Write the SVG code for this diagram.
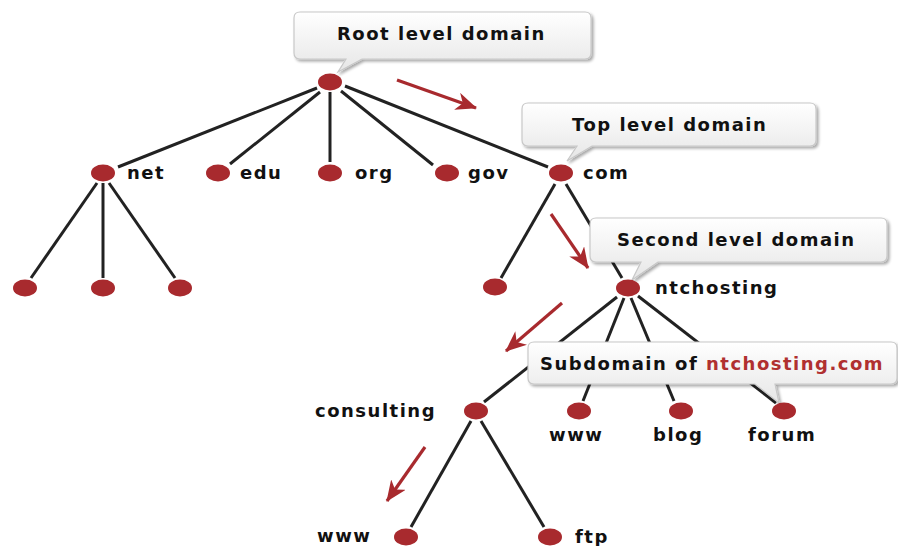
<svg xmlns="http://www.w3.org/2000/svg" width="898" height="546" viewBox="0 0 898 546">
<defs>
<linearGradient id="cg" x1="0" y1="0" x2="0" y2="1">
<stop offset="0" stop-color="#ffffff"/>
<stop offset="1" stop-color="#e6e6e6"/>
</linearGradient>
<filter id="sh" x="-10%" y="-20%" width="130%" height="160%">
<feGaussianBlur in="SourceAlpha" stdDeviation="1.5"/>
<feOffset dx="2" dy="2" result="b"/>
<feComponentTransfer><feFuncA type="linear" slope="0.35"/></feComponentTransfer>
<feMerge><feMergeNode/><feMergeNode in="SourceGraphic"/></feMerge>
</filter>
<marker id="ah" markerUnits="userSpaceOnUse" markerWidth="21" markerHeight="18" viewBox="0 0 21 18" refX="20" refY="9" orient="auto">
<path d="M0,0 L21,9 L0,18 L6,9 Z" fill="#a82a2e"/>
</marker>
</defs>
<style>
.e{stroke:#222;stroke-width:3;fill:none}
.a{stroke:#a82a2e;stroke-width:3.2;fill:none;marker-end:url(#ah)}
.n{fill:#a82a2e}
.t{font-family:"DejaVu Sans","Liberation Sans",sans-serif;font-weight:bold;font-size:18px;letter-spacing:1.5px;fill:#111}
.c{fill:url(#cg);stroke:#c8c8c8;stroke-width:1.2;filter:url(#sh)}
.r{fill:#b03030}
</style>
<rect width="898" height="546" fill="#fff"/>
<g id="connectors">
<line class="e" x1="317" y1="88" x2="118" y2="167"/>
<line class="e" x1="320" y1="92" x2="230" y2="164"/>
<line class="e" x1="330" y1="92" x2="330" y2="162"/>
<line class="e" x1="341" y1="91" x2="433" y2="165"/>
<line class="e" x1="345" y1="86" x2="548" y2="167"/>
<line class="e" x1="97" y1="183" x2="31" y2="278"/>
<line class="e" x1="103" y1="183" x2="103" y2="278"/>
<line class="e" x1="109" y1="183" x2="175" y2="278"/>
<line class="e" x1="555" y1="184" x2="501" y2="278"/>
<line class="e" x1="566" y1="184" x2="622" y2="278"/>
<line class="e" x1="617" y1="297" x2="484" y2="402"/>
<line class="e" x1="624" y1="298" x2="583" y2="401"/>
<line class="e" x1="631" y1="298" x2="674" y2="401"/>
<line class="e" x1="638" y1="296" x2="776" y2="403"/>
<line class="e" x1="471" y1="421" x2="411" y2="527"/>
<line class="e" x1="481" y1="421" x2="544" y2="527"/>
<line class="a" x1="397" y1="80" x2="476" y2="108"/>
<line class="a" x1="551" y1="214" x2="588" y2="268"/>
<line class="a" x1="562" y1="303" x2="506" y2="351"/>
<line class="a" x1="425" y1="447" x2="387" y2="501"/>
</g>
<g id="callout-root">
<path class="c" d="M300,12 H585 Q591,12 591,18 V53 Q591,59 585,59 H362 L338,72 L346,59 H300 Q294,59 294,53 V18 Q294,12 300,12 Z"/>
<text class="t" x="337" y="40">Root level domain</text>
</g>
<g id="callout-top">
<path class="c" d="M528,103 H810 Q816,103 816,109 V140 Q816,146 810,146 H592 L567,161 L577,146 H528 Q522,146 522,140 V109 Q522,103 528,103 Z"/>
<text class="t" x="572" y="131">Top level domain</text>
</g>
<g id="callout-second">
<path class="c" d="M596,218 H881 Q887,218 887,224 V256 Q887,262 881,262 H658 L632,280 L641,262 H596 Q590,262 590,256 V224 Q590,218 596,218 Z"/>
<text class="t" x="617" y="246">Second level domain</text>
</g>
<g id="n-root"><ellipse class="n" cx="330" cy="82" rx="12" ry="8.5"/></g>
<g id="n-net"><ellipse class="n" cx="103" cy="173" rx="12" ry="8.5"/><text class="t" x="127" y="179">net</text></g>
<g id="n-edu"><ellipse class="n" cx="218" cy="173" rx="12" ry="8.5"/><text class="t" x="240" y="179">edu</text></g>
<g id="n-org"><ellipse class="n" cx="330" cy="173" rx="12" ry="8.5"/><text class="t" x="355" y="179">org</text></g>
<g id="n-gov"><ellipse class="n" cx="447" cy="173" rx="12" ry="8.5"/><text class="t" x="468" y="179">gov</text></g>
<g id="n-com"><ellipse class="n" cx="561" cy="173" rx="12" ry="8.5"/><text class="t" x="583" y="179">com</text></g>
<g id="n-net1"><ellipse class="n" cx="25" cy="288" rx="12" ry="8.5"/></g>
<g id="n-net2"><ellipse class="n" cx="103" cy="288" rx="12" ry="8.5"/></g>
<g id="n-net3"><ellipse class="n" cx="180" cy="288" rx="12" ry="8.5"/></g>
<g id="n-com1"><ellipse class="n" cx="495" cy="287" rx="12" ry="8.5"/></g>
<g id="n-ntchosting"><ellipse class="n" cx="628" cy="288" rx="12" ry="8.5"/><text class="t" x="655" y="294">ntchosting</text></g>
<g id="callout-sub">
<path class="c" d="M534,342 H891 Q897,342 897,348 V378 Q897,384 891,384 H775 L779,403 L755,384 H534 Q528,384 528,378 V348 Q528,342 534,342 Z"/>
<text class="t" x="540" y="370">Subdomain of <tspan class="r">ntchosting.com</tspan></text>
</g>
<g id="n-consulting"><ellipse class="n" cx="476" cy="411" rx="12" ry="8.5"/><text class="t" x="315" y="417">consulting</text></g>
<g id="n-www"><ellipse class="n" cx="579" cy="411" rx="12" ry="8.5"/><text class="t" x="549" y="441">www</text></g>
<g id="n-blog"><ellipse class="n" cx="681" cy="411" rx="12" ry="8.5"/><text class="t" x="653" y="441">blog</text></g>
<g id="n-forum"><ellipse class="n" cx="784" cy="411" rx="12" ry="8.5"/><text class="t" x="748" y="441">forum</text></g>
<g id="n-www2"><ellipse class="n" cx="406" cy="537" rx="12" ry="8.5"/><text class="t" x="317" y="542">www</text></g>
<g id="n-ftp"><ellipse class="n" cx="550" cy="537" rx="12" ry="8.5"/><text class="t" x="575" y="543">ftp</text></g>
</svg>
